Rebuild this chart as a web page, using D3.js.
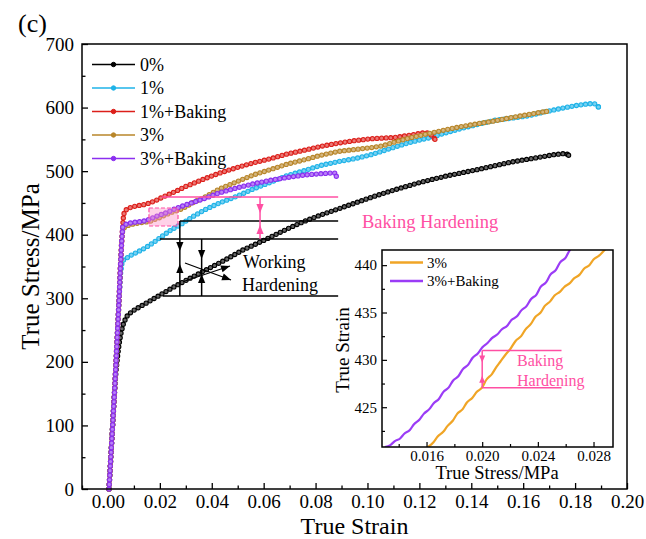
<!DOCTYPE html>
<html>
<head>
<meta charset="utf-8">
<script src="https://cdn.jsdelivr.net/npm/d3@7"></script>
<style>
  body { margin: 0; background: #fff; }
  svg { display: block; }
  text { font-family: "Liberation Serif", "Times New Roman", serif; fill: #000; }
</style>
</head>
<body>
<svg id="chart" width="646" height="539"></svg>
<script>
// ---- series: [true strain, true stress (MPa)] ----
const curve0 = [[0.0004,0],[0.0011,50],[0.0018,100],[0.0025,150],[0.0030,180],[0.0036,205],[0.0043,228],[0.0051,247],
  [0.0061,262],[0.0075,273],[0.0095,280],[0.012,286],[0.015,293],[0.020,305],[0.025,317],[0.030,328],[0.037,343],
  [0.045,360],[0.052,376],[0.060,391],[0.068,407],[0.075,420],[0.082,431],[0.089,441],[0.096,451],[0.103,461],
  [0.110,470],[0.120,482],[0.130,492],[0.143,503],[0.155,514],[0.165,521],[0.172,526],[0.1765,528],[0.1775,525]];
const curve1 = [[0.0004,0],[0.0011,50],[0.0018,100],[0.0025,150],[0.0031,200],[0.0037,250],[0.0043,300],[0.0049,340],
  [0.0055,358],[0.0064,362],[0.0075,364],[0.0090,368],[0.0110,372],[0.0147,380],[0.018,389],[0.021,398],[0.0245,408],
  [0.028,416],[0.0325,428],[0.0372,439],[0.043,450],[0.050,461],[0.056,472],[0.063,483],[0.069,493],[0.0758,501],
  [0.082,509],[0.0887,515],[0.0955,520],[0.1015,526],[0.1106,538],[0.117,546],[0.1234,552],[0.130,560],[0.136,567],
  [0.143,574],[0.149,580],[0.155,583],[0.162,587],[0.168,593],[0.175,599],[0.180,603],[0.1853,606],[0.1875,606],[0.189,601]];
const curve1B = [[0.0004,0],[0.0011,50],[0.0018,100],[0.0025,150],[0.0031,200],[0.0037,250],[0.0043,300],[0.0048,350],
  [0.0053,390],[0.0057,415],[0.0060,430],[0.0064,437],[0.0075,441],[0.0095,444],[0.012,446],[0.0147,448],[0.018,453],
  [0.021,459],[0.026,468],[0.030,476],[0.0372,488],[0.043,497],[0.050,506],[0.056,513],[0.063,520],[0.069,527],
  [0.0758,533],[0.082,539],[0.0887,544],[0.095,548],[0.1015,551],[0.1106,553],[0.117,557],[0.121,560],[0.1234,560],
  [0.125,556],[0.126,550]];
const curve3 = [[0.0004,0],[0.0011,50],[0.0018,100],[0.0025,150],[0.0031,200],[0.0037,250],[0.0043,300],[0.0048,350],
  [0.0053,390],[0.0057,408],[0.0065,412],[0.008,415],[0.010,417],[0.012,418.5],[0.0145,420],[0.0161,421],[0.0186,425],
  [0.0201,427],[0.022,431],[0.0247,435.6],[0.0273,438.8],[0.029,441.6],[0.0325,450],[0.0372,459],[0.043,472],
  [0.050,484],[0.056,494],[0.063,503],[0.069,511],[0.0758,518],[0.082,525],[0.0887,531],[0.095,534],[0.1015,537],
  [0.106,540],[0.1106,546],[0.117,553],[0.1234,559],[0.130,565],[0.136,570],[0.143,575],[0.149,579],[0.155,584],
  [0.162,589],[0.166,592],[0.169,594]];
const curve3B = [[0.0004,0],[0.0011,50],[0.0018,100],[0.0025,150],[0.0031,200],[0.0037,250],[0.0043,300],[0.0048,350],
  [0.0053,390],[0.0057,412],[0.0065,416],[0.0082,418],[0.010,419.5],[0.013,420.8],[0.0150,422.7],[0.0174,426.8],
  [0.0197,430.8],[0.0218,433.5],[0.0242,437.7],[0.0263,441.6],[0.030,447],[0.0372,457],[0.043,466],[0.050,474],
  [0.056,480],[0.063,486],[0.069,490],[0.0758,494],[0.082,496],[0.086,497],[0.0875,497],[0.088,492]];

// close-up of the 3% pair around the yield plateau (serrated flow)
const inset3 = [[0.0161,420.8],[0.0165,421.3],[0.0168,421.9],[0.0172,422.4],[0.0175,423.0],[0.0179,423.6],[0.0182,424.3],
  [0.0186,424.8],[0.0189,425.5],[0.0193,426.0],[0.0196,426.6],[0.0200,427.1],[0.0203,427.9],[0.0207,428.5],[0.0210,429.2],
  [0.0213,429.8],[0.0217,430.6],[0.0220,431.1],[0.0224,432.0],[0.0228,432.5],[0.0231,433.2],[0.0235,433.8],[0.0238,434.5],
  [0.0242,435.0],[0.0245,435.7],[0.0249,436.2],[0.0252,436.8],[0.0256,437.2],[0.0259,437.7],[0.0263,438.1],[0.0266,438.6],
  [0.0270,439.0],[0.0273,439.6],[0.0277,440.0],[0.0280,440.6],[0.0284,441.0],[0.0288,441.6],[0.0291,442.0]];
const inset3B = [[0.0130,420.8],[0.0134,421.0],[0.0137,421.4],[0.0141,421.7],[0.0144,422.2],[0.0148,422.6],[0.0151,423.2],
  [0.0155,423.7],[0.0158,424.3],[0.0162,424.8],[0.0165,425.4],[0.0169,425.9],[0.0172,426.6],[0.0176,427.1],[0.0179,427.8],
  [0.0183,428.3],[0.0186,429.0],[0.0190,429.5],[0.0193,430.2],[0.0197,430.7],[0.0200,431.3],[0.0204,431.8],[0.0207,432.3],
  [0.0211,432.7],[0.0214,433.2],[0.0218,433.6],[0.0221,434.2],[0.0225,434.6],[0.0228,435.2],[0.0232,435.7],[0.0235,436.4],
  [0.0239,436.9],[0.0242,437.7],[0.0246,438.2],[0.0249,439.0],[0.0253,439.5],[0.0256,440.3],[0.0260,440.8],[0.0263,441.6],
  [0.0266,442.0]];

const seriesNames = ["0%", "1%", "1%+Baking", "3%", "3%+Baking"];
const seriesColors = ["#000000", "#1fb3e8", "#dc1f1a", "#b8862a", "#8b2ff0"];
const insetNames = ["3%", "3%+Baking"];
const insetColors = ["#f0a526", "#9b3cf6"];

const xTicks = [0, 0.02, 0.04, 0.06, 0.08, 0.10, 0.12, 0.14, 0.16, 0.18, 0.20];
const xMinor = [-0.01, 0.01, 0.03, 0.05, 0.07, 0.09, 0.11, 0.13, 0.15, 0.17, 0.19];
const yTicks = [0, 100, 200, 300, 400, 500, 600, 700];
const yMinor = [50, 150, 250, 350, 450, 550, 650];
const insetXTicks = [0.016, 0.020, 0.024, 0.028];
const insetXMinor = [0.014, 0.018, 0.022, 0.026];
const insetYTicks = [425, 430, 435, 440];
const insetYMinor = [422.5, 427.5, 432.5, 437.5];

// annotation levels (MPa)
const levelBake = 459.3, levelYield3 = 421.6, levelYield1 = 393.3, levelBase = 303.6;
const insetBakeTop = 431.0, insetBakeBottom = 427.05;

const pink = "#ff4fa3";
const serif = "Liberation Serif, Times New Roman, serif";
const svg = d3.select("#chart");

// ---------- main axes ----------
const x = d3.scaleLinear().domain([-0.01, 0.20]).range([82, 627]);
const y = d3.scaleLinear().domain([0, 700]).range([489, 44]);

svg.append("text").attr("x", 18).attr("y", 32).attr("font-size", 26).text("(c)");

const gx = svg.append("g").attr("transform", `translate(0,${y(0)})`);
gx.call(d3.axisBottom(x).tickValues(xTicks).tickSize(-6).tickPadding(5.5)
  .tickFormat(d3.format(".2f")));
const gxm = svg.append("g").attr("transform", `translate(0,${y(0)})`);
gxm.call(d3.axisBottom(x).tickValues(xMinor).tickSize(-3.5).tickFormat(""));

const gy = svg.append("g").attr("transform", `translate(${x(-0.01)},0)`);
gy.call(d3.axisLeft(y).tickValues(yTicks).tickSize(-6).tickPadding(8).tickFormat(d3.format("d")));
const gym = svg.append("g").attr("transform", `translate(${x(-0.01)},0)`);
gym.call(d3.axisLeft(y).tickValues(yMinor).tickSize(-3.5).tickFormat(""));

[gx, gxm, gy, gym].forEach(g => {
  g.attr("font-family", serif);
  g.select(".domain").remove();
  g.selectAll(".tick line").attr("stroke", "#000").attr("stroke-width", 1.3);
  g.selectAll(".tick text").attr("font-size", 19).attr("fill", "#000");
});

svg.append("text").attr("x", (x(-0.01) + x(0.2)) / 2).attr("y", 533.5).attr("text-anchor", "middle")
  .attr("font-size", 24).text("True Strain");
svg.append("text").attr("transform", `translate(39,${(y(0) + y(700)) / 2}) rotate(-90)`)
  .attr("text-anchor", "middle").attr("font-size", 25).text("True Stress/MPa");

// ---------- curves with bead markers ----------
const line = d3.line().x(d => x(d[0])).y(d => y(d[1]));
const curves = [curve0, curve1, curve1B, curve3, curve3B];
const plot = svg.append("g");

function beads(g, pathNode, color, step) {
  const L = pathNode.getTotalLength();
  const pts = d3.range(0, L, step).map(l => pathNode.getPointAtLength(l));
  pts.push(pathNode.getPointAtLength(L));
  const inner = d3.interpolateRgb(color, "#ffffff")(0.4);
  g.selectAll(null).data(pts).join("circle")
    .attr("cx", p => p.x).attr("cy", p => p.y).attr("r", 2.1)
    .attr("fill", inner).attr("stroke", color).attr("stroke-width", 1.1);
}

curves.forEach((c, i) => {
  const g = plot.append("g");
  const p = g.append("path").attr("d", line(c)).attr("fill", "none")
    .attr("stroke", seriesColors[i]).attr("stroke-width", 1.4);
  beads(g, p.node(), seriesColors[i], 4.6);
});

// ---------- legend ----------
const legend = svg.append("g");
seriesNames.forEach((n, i) => {
  const ly = 64.5 + i * 23.5;
  legend.append("line").attr("x1", 92).attr("x2", 135).attr("y1", ly).attr("y2", ly)
    .attr("stroke", seriesColors[i]).attr("stroke-width", 1.6);
  legend.append("circle").attr("cx", 113.5).attr("cy", ly).attr("r", 2.2)
    .attr("fill", seriesColors[i]).attr("stroke", seriesColors[i]);
  legend.append("text").attr("x", 140).attr("y", ly).attr("dy", "0.35em")
    .attr("font-size", 18).text(n);
});

// ---------- hardening annotations ----------
function arrowHead(g, cx, tipY, dir, color, w = 3.6, h = 9) {
  // dir = +1 points down, -1 points up
  g.append("path")
    .attr("d", `M${cx},${tipY} L${cx - w},${tipY - dir * h} L${cx + w},${tipY - dir * h} Z`)
    .attr("fill", color);
}
function hline(g, s0, s1, v, color, sx = x, sy = y) {
  g.append("line").attr("x1", sx(s0)).attr("x2", sx(s1)).attr("y1", sy(v)).attr("y2", sy(v))
    .attr("stroke", color).attr("stroke-width", 1.5);
}
function vline(g, s, v0, v1, color, sx = x, sy = y) {
  g.append("line").attr("x1", sx(s)).attr("x2", sx(s)).attr("y1", sy(v0)).attr("y2", sy(v1))
    .attr("stroke", color).attr("stroke-width", 1.5);
}
const ann = svg.append("g");

// highlighted region that the inset enlarges
ann.append("rect").attr("x", x(0.0158)).attr("y", y(442)).attr("width", x(0.0270) - x(0.0158))
  .attr("height", y(413.7) - y(442)).attr("fill", "#ff8cc6").attr("fill-opacity", 0.4)
  .attr("stroke", pink).attr("stroke-width", 1.2).attr("stroke-dasharray", "4,2");

hline(ann, 0.0207, 0.0887, levelBake, pink);
hline(ann, 0.0277, 0.0887, levelYield3, "#000");
hline(ann, 0.0200, 0.0887, levelYield1, "#000");
hline(ann, 0.0212, 0.0887, levelBase, "#000");

// baking hardening gap
vline(ann, 0.0586, levelBake, levelYield1, pink);
arrowHead(ann, x(0.0586), y(levelBake) + 16, 1, pink);
arrowHead(ann, x(0.0586), y(levelYield1) - 14, -1, pink);

// working hardening gaps
vline(ann, 0.0277, levelYield3, levelBase, "#000");
arrowHead(ann, x(0.0277), y(levelYield3) + 30, 1, "#000");
arrowHead(ann, x(0.0277), y(levelBase) - 32, -1, "#000");
vline(ann, 0.0361, levelYield1, levelBase, "#000");
arrowHead(ann, x(0.0361), y(levelYield1) + 20, 1, "#000");
arrowHead(ann, x(0.0361), y(levelBase) - 22, -1, "#000");

// crossed pointers toward the label
function pointer(g, x0, y0, x1, y1) {
  g.append("line").attr("x1", x0).attr("y1", y0).attr("x2", x1).attr("y2", y1)
    .attr("stroke", "#000").attr("stroke-width", 1.3);
  const a = Math.atan2(y1 - y0, x1 - x0), h = 9, w = 3.5;
  const bx = x1 - h * Math.cos(a), by = y1 - h * Math.sin(a);
  g.append("path").attr("d", `M${x1},${y1} L${bx - w * Math.sin(a)},${by + w * Math.cos(a)} L${bx + w * Math.sin(a)},${by - w * Math.cos(a)} Z`)
    .attr("fill", "#000");
}
pointer(ann, 185, 263, 231, 280);
pointer(ann, 185, 281, 230, 266);

ann.append("text").attr("x", 243).attr("y", 262).attr("dy", "0.35em").attr("font-size", 18).text("Working");
ann.append("text").attr("x", 242).attr("y", 285).attr("dy", "0.35em").attr("font-size", 18).text("Hardening");
ann.append("text").attr("x", 362).attr("y", 222).attr("dy", "0.35em").attr("font-size", 18.5)
  .style("fill", pink).text("Baking Hardening");

// ---------- inset ----------
const ix = d3.scaleLinear().domain([0.0128, 0.0294]).range([382, 613]);
const iy = d3.scaleLinear().domain([420.8, 441.6]).range([447, 250]);
const inset = svg.append("g");
inset.append("rect").attr("x", 382).attr("y", 250).attr("width", 231).attr("height", 197).attr("fill", "#fff");

const clip = svg.append("clipPath").attr("id", "insetClip");
clip.append("rect").attr("x", 382).attr("y", 250).attr("width", 231).attr("height", 197);

const iline = d3.line().x(d => ix(d[0])).y(d => iy(d[1])).curve(d3.curveMonotoneX);
const icurves = inset.append("g").attr("clip-path", "url(#insetClip)");
[inset3, inset3B].forEach((c, i) => {
  icurves.append("path").attr("d", iline(c)).attr("fill", "none")
    .attr("stroke", insetColors[i]).attr("stroke-width", 2.2);
});

// baking hardening gap in the close-up
hline(inset, 0.0200, 0.0257, insetBakeTop, pink, ix, iy);
hline(inset, 0.0200, 0.0257, insetBakeBottom, pink, ix, iy);
vline(inset, 0.0200, insetBakeTop, insetBakeBottom, pink, ix, iy);
arrowHead(inset, ix(0.0200), iy(insetBakeTop) + 12, 1, pink, 3, 7);
arrowHead(inset, ix(0.0200), iy(insetBakeBottom) - 12, -1, pink, 3, 7);
inset.append("text").attr("x", 517).attr("y", 360).attr("dy", "0.35em").attr("font-size", 16)
  .style("fill", pink).text("Baking");
inset.append("text").attr("x", 517).attr("y", 380).attr("dy", "0.35em").attr("font-size", 16)
  .style("fill", pink).text("Hardening");

const igx = inset.append("g").attr("transform", "translate(0,447)");
igx.call(d3.axisBottom(ix).tickValues(insetXTicks).tickSize(-5).tickPadding(3).tickFormat(d3.format(".3f")));
const igxm = inset.append("g").attr("transform", "translate(0,447)");
igxm.call(d3.axisBottom(ix).tickValues(insetXMinor).tickSize(-3).tickFormat(""));
const igy = inset.append("g").attr("transform", "translate(382,0)");
igy.call(d3.axisLeft(iy).tickValues(insetYTicks).tickSize(-5).tickPadding(5).tickFormat(d3.format("d")));
const igym = inset.append("g").attr("transform", "translate(382,0)");
igym.call(d3.axisLeft(iy).tickValues(insetYMinor).tickSize(-3).tickFormat(""));
[igx, igxm, igy, igym].forEach(g => {
  g.attr("font-family", serif);
  g.select(".domain").remove();
  g.selectAll(".tick line").attr("stroke", "#000").attr("stroke-width", 1.2);
  g.selectAll(".tick text").attr("font-size", 15).attr("fill", "#000");
});
inset.append("rect").attr("x", 382).attr("y", 250).attr("width", 231).attr("height", 197)
  .attr("fill", "none").attr("stroke", "#000").attr("stroke-width", 1.5);

insetNames.forEach((n, i) => {
  const ly = 262.5 + i * 18.5;
  inset.append("line").attr("x1", 390).attr("x2", 423).attr("y1", ly).attr("y2", ly)
    .attr("stroke", insetColors[i]).attr("stroke-width", 2.4);
  inset.append("text").attr("x", 427).attr("y", ly).attr("dy", "0.35em").attr("font-size", 15).text(n);
});
inset.append("text").attr("x", 497).attr("y", 479).attr("text-anchor", "middle").attr("font-size", 18.5)
  .text("True Stress/MPa");
inset.append("text").attr("transform", "translate(349,350) rotate(-90)").attr("text-anchor", "middle")
  .attr("font-size", 19).text("True Strain");

// ---------- frame ----------
svg.append("rect").attr("x", x(-0.01)).attr("y", y(700)).attr("width", x(0.2) - x(-0.01))
  .attr("height", y(0) - y(700)).attr("fill", "none").attr("stroke", "#000").attr("stroke-width", 1.5);
</script>
</body>
</html>
